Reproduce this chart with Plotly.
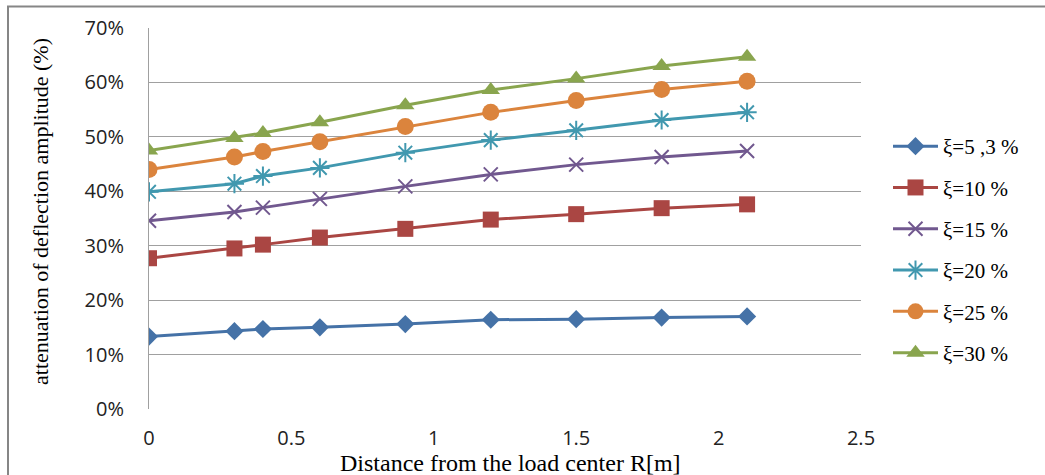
import plotly.graph_objects as go

# ---- data ----
distance = [0, 0.3, 0.4, 0.6, 0.9, 1.2, 1.5, 1.8, 2.1]
xi_5_3 = [13.3, 14.3, 14.7, 15.0, 15.6, 16.4, 16.5, 16.8, 17.0]
xi_10 = [27.7, 29.5, 30.2, 31.5, 33.1, 34.8, 35.8, 36.9, 37.6]
xi_15 = [34.6, 36.2, 37.0, 38.6, 40.9, 43.1, 44.9, 46.3, 47.4]
xi_20 = [39.9, 41.4, 42.8, 44.3, 47.1, 49.4, 51.2, 53.1, 54.5]
xi_25 = [44.0, 46.3, 47.3, 49.1, 51.9, 54.5, 56.7, 58.7, 60.2]
xi_30 = [47.5, 49.8, 50.7, 52.7, 55.8, 58.6, 60.7, 63.0, 64.7]

series_names = ["ξ=5 ,3 %", "ξ=10 %", "ξ=15 %", "ξ=20 %", "ξ=25 %", "ξ=30 %"]
series_values = [xi_5_3, xi_10, xi_15, xi_20, xi_25, xi_30]
y_tick_vals = [0, 10, 20, 30, 40, 50, 60, 70]
y_tick_text = ["0%", "10%", "20%", "30%", "40%", "50%", "60%", "70%"]
x_tick_vals = [0, 0.5, 1, 1.5, 2, 2.5]
x_tick_text = ["0", "0.5", "1", "1.5", "2", "2.5"]

# ---- styles ----
colors = ["#4572A7", "#AA4643", "#71588F", "#4198AF", "#DB843D", "#89A54E"]
symbols = ["diamond", "square", "x-thin-open", "asterisk-open", "circle", "triangle-up"]
sizes = [14, 16, 14, 16, 17, 16]
line_widths = [0, 0, 2, 2, 0, 0]

fig = go.Figure()
for i, (name, vals) in enumerate(zip(series_names, series_values)):
    fig.add_trace(go.Scatter(
        x=distance, y=vals, name=name, mode="lines+markers",
        legendgroup=f"g{i}",
        line=dict(color=colors[i], width=3),
        marker=dict(symbol=symbols[i], size=sizes[i], color=colors[i],
                    line=dict(color=colors[i], width=line_widths[i])),
    ))

L, R, T, B = 149, 861, 28, 409
W, H = 1045, 475

fig.update_layout(
    width=W, height=H,
    margin=dict(l=L, r=W - R, t=T, b=H - B, pad=0),
    paper_bgcolor="white", plot_bgcolor="white",
    showlegend=True,
    legend=dict(
        x=(888 - L) / (R - L), y=(409 - 126) / (B - T), xanchor="left", yanchor="top",
        font=dict(family="Liberation Serif", size=21, color="black"),
        tracegroupgap=11, traceorder="grouped",
        itemwidth=45, bgcolor="rgba(0,0,0,0)",
    ),
    xaxis=dict(
        range=[0, 2.5], tickvals=x_tick_vals, ticktext=x_tick_text,
        showgrid=False, zeroline=False, showline=False, ticks="",
        tickfont=dict(family="Open Sans", size=20, color="#222"),
        ticklabelstandoff=15,
    ),
    yaxis=dict(
        range=[0, 70], tickvals=y_tick_vals, ticktext=y_tick_text,
        showgrid=True, gridcolor="#A0A0A0", gridwidth=1,
        zeroline=False, showline=True, linecolor="#A0A0A0", linewidth=1,
        ticks="", tickfont=dict(family="Open Sans", size=20, color="#222"),
        ticklabelstandoff=20,
    ),
    annotations=[
        dict(text="Distance from the load center R[m]", xref="paper", yref="paper",
             x=(510 - L) / (R - L), y=(B - 463) / (B - T), xanchor="center", yanchor="middle",
             showarrow=False, font=dict(family="Liberation Serif", size=24, color="black")),
        dict(text="attenuation of deflection amplitude (%)", xref="paper", yref="paper",
             x=(40 - L) / (R - L), y=(B - 212) / (B - T), xanchor="center", yanchor="middle",
             textangle=-90, showarrow=False,
             font=dict(family="Liberation Serif", size=22, color="black")),
    ],
    shapes=[
        dict(type="rect", xref="paper", yref="paper",
             x0=(8 - L) / (R - L), x1=(1060 - L) / (R - L),
             y0=(B - 490) / (B - T), y1=(B - 6.5) / (B - T),
             line=dict(color="#868686", width=2), layer="below"),
    ],
)

fig.write_html("out.html")
